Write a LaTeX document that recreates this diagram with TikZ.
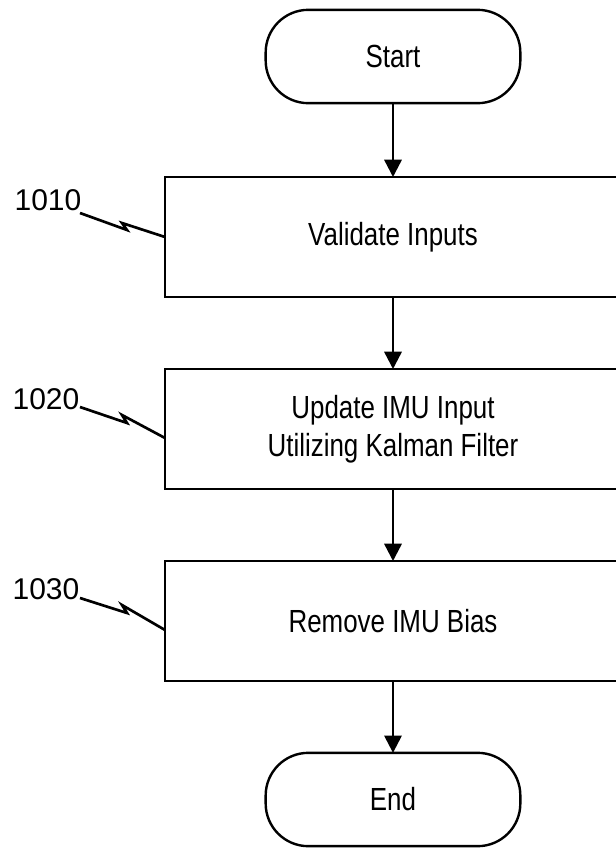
\documentclass[tikz,border=0pt]{standalone}
\usepackage{fontspec}
\setmainfont{Liberation Sans}
\newfontfamily\boxfont[FakeStretch=0.81]{Liberation Sans}
\usetikzlibrary{arrows.meta,calc}
\begin{document}
\begin{tikzpicture}[x=0.75pt,y=-0.75pt,
  every node/.style={inner sep=0pt,outer sep=0pt},
  term/.style={draw,line width=1.8pt,rounded corners=32pt,minimum width=191pt,minimum height=70pt,font=\boxfont\fontsize{24pt}{28.5pt}\selectfont,align=center},
  stepbox/.style={draw,line width=1.8pt,minimum width=342pt,minimum height=90pt,font=\boxfont\fontsize{24pt}{28.5pt}\selectfont,align=center},
  lbl/.style={font=\fontsize{22.5pt}{26pt}\selectfont},
  flow/.style={line width=1.8pt,-{Triangle[length=13pt,width=13pt]}},
  leader/.style={line width=2pt,line join=miter}]
\useasboundingbox (0,0) rectangle (615,850);
\fill[white] (0,0) rectangle (615,850);
\node[term] (start) at (393,56.5) {Start};
\node[stepbox] (b1) at (393,237) {Validate Inputs};
\node[stepbox] (b2) at (393,429) {Update IMU Input\\Utilizing Kalman Filter};
\node[stepbox] (b3) at (393,621) {Remove IMU Bias};
\node[term] (end) at (393,799.5) {End};
\draw[flow] (start) -- (b1);
\draw[flow] (b1) -- (b2);
\draw[flow] (b2) -- (b3);
\draw[flow] (b3) -- (end);
\node[lbl] (l1) at (48,200) {1010};
\node[lbl] (l2) at (46,399) {1020};
\node[lbl] (l3) at (46,589) {1030};
\coordinate (s1) at (80,213);
\coordinate (s2) at (80,407);
\coordinate (s3) at (80,598);
\draw[leader] (s1) -- (127,230) -- (122,223) -- (b1.west);
\draw[leader] (s2) -- (127,423) -- (122,415) -- ($(b2.west)+(0,9)$);
\draw[leader] (s3) -- (127,613) -- (122,605) -- ($(b3.west)+(0,9)$);
\end{tikzpicture}
\end{document}
